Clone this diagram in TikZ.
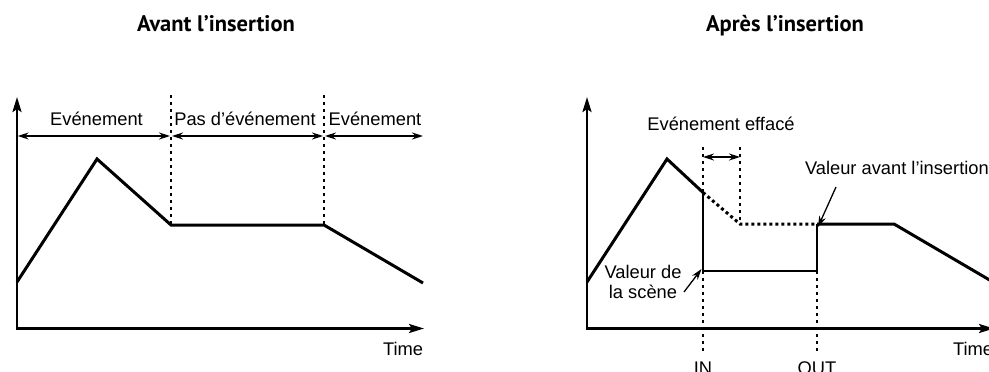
\documentclass[tikz,border=0pt]{standalone}
\usepackage{fontspec}
\setmainfont{Liberation Sans}
\newfontfamily\titlefont{PT Sans}
\usetikzlibrary{arrows.meta}
\begin{document}
\begin{tikzpicture}[x=1pt,y=-1pt,
  curve/.style={line width=3pt, line join=miter},
  dcurve/.style={line width=3pt, dash pattern=on 3pt off 3pt},
  axis/.style={line width=2.6pt, line join=miter, {Stealth[length=15pt,width=9pt,inset=3pt]}-{Stealth[length=15pt,width=9pt,inset=3pt]}},
  dots/.style={line width=1.4pt, dash pattern=on 3pt off 4pt},
  thinl/.style={line width=1.3pt},
  dbl/.style={line width=1.3pt, {Stealth[length=11pt,width=7pt]}-{Stealth[length=11pt,width=7pt]}},
  ptr/.style={line width=1.3pt, -{Stealth[length=11pt,width=7pt]}},
  lbl/.style={inner sep=0pt, anchor=base, font=\fontsize{18.3}{21}\selectfont},
  ttl/.style={inner sep=0pt, anchor=base, font=\titlefont\bfseries\fontsize{22.5}{26}\selectfont},
]
\useasboundingbox (0,0) rectangle (989,372);

% titles
\node[ttl] (t1) at (216,31) {Avant l’insertion};
\node[ttl] (t2) at (785,31) {Après l’insertion};

% ---------- left panel ----------
\coordinate (LY) at (17,97);
\coordinate (L0) at (17,328.5);
\coordinate (LX) at (424,328.5);
\coordinate (La) at (17,282);
\coordinate (Lb) at (97,159);
\coordinate (Lc) at (171,225);
\coordinate (Ld) at (324,225);
\coordinate (Le) at (423,283);
\coordinate (Lt1) at (171,95);
\coordinate (Lt2) at (324,95);
\coordinate (A0) at (17,136);
\coordinate (A1) at (171,136);
\coordinate (A2) at (324,136);
\coordinate (A3) at (423,136);

\draw[axis] (LY) -- (L0) -- (LX);
\draw[dots] (Lt1) -- (Lc);
\draw[dots] (Lt2) -- (Ld);
\draw[curve] (La) -- (Lb) -- (Lc) -- (Ld) -- (Le);
\draw[dbl] ([xshift=0.7pt]A0) -- ([xshift=-1pt]A1);
\draw[dbl] ([xshift=1pt]A1) -- ([xshift=-1pt]A2);
\draw[dbl] ([xshift=1pt]A2) -- (A3);

\node[lbl] (e1) at (96.5,125) {Evénement};
\node[lbl] (e2) at (245,125) {Pas d’événement};
\node[lbl] (e3) at (375,125) {Evénement};
\node[lbl] (tm1) at (403,355) {Time};

% ---------- right panel ----------
\coordinate (RY) at (587,97);
\coordinate (R0) at (587,328.5);
\coordinate (RX) at (994,328.5);
\coordinate (Ra) at (587,282);
\coordinate (Rb) at (667,159);
\coordinate (Rc) at (703,192.5);
\coordinate (Rd) at (740,224);
\coordinate (Re) at (817,224);
\coordinate (Rf) at (894,224);
\coordinate (Rg) at (993,282);
\coordinate (Rh) at (703,271);
\coordinate (Ri) at (817,271);
\coordinate (Rt1) at (703,147);
\coordinate (Rt2) at (740,147);
\coordinate (Rb1) at (703,352);
\coordinate (Rb2) at (817,352);
\coordinate (B0) at (703,157);
\coordinate (B1) at (740,157);

\draw[axis] (RY) -- (R0) -- (RX);
\draw[dots] (Rt1) -- (Rc);
\draw[dots] (Rt2) -- (Rd);
\draw[dots] (Rh) -- (Rb1);
\draw[dots] (Ri) -- (Rb2);
\draw[thinl] (Rc) -- (Rh) -- (Ri) -- (Re);
\draw[curve] (Ra) -- (Rb) -- (Rc);
\draw[dcurve] (Rc) -- (Rd) -- (Re);
\draw[curve] (Re) -- (Rf) -- (Rg);
\draw[dbl] (B0) -- (B1);

\node[lbl] (ef) at (721,130) {Evénement effacé};
\node[lbl, anchor=base east] (va) at (989,174) {Valeur avant l’insertion};
\coordinate (vaS) at (836,187);
\draw[ptr] (vaS) -- ([xshift=1pt,yshift=-3pt]Re);

\node[lbl, align=center, anchor=base] (vs) at (643,298) {Valeur de\\[-1.5pt]la scène};
\coordinate (vsS) at (684,292);
\draw[ptr] (vsS) -- ([xshift=-1.5pt,yshift=2pt]Rh);

\node[lbl] (in) at (703,374) {IN};
\node[lbl] (out) at (817,374) {OUT};
\node[lbl] (tm2) at (973,355) {Time};
\end{tikzpicture}
\end{document}
